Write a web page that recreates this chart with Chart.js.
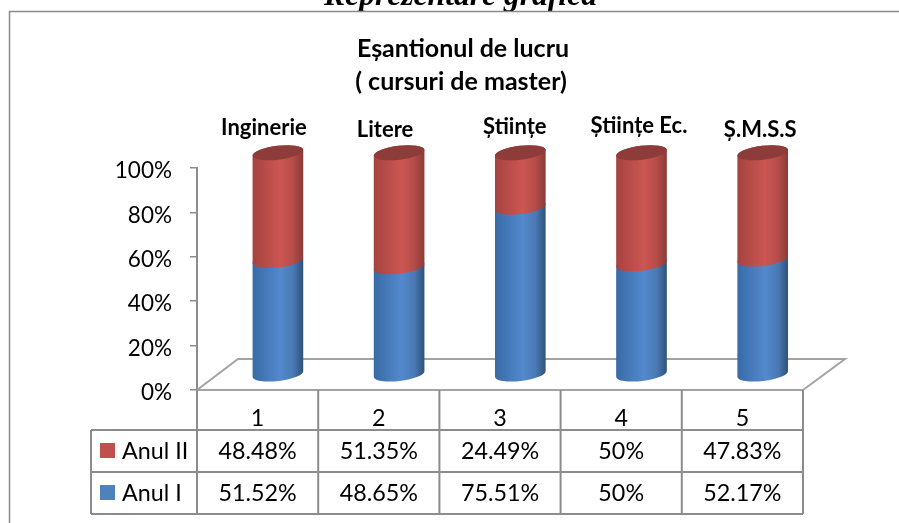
<!DOCTYPE html>
<html>
<head>
<meta charset="utf-8">
<style>html,body{margin:0;padding:0;background:#fff;overflow:hidden}canvas{display:block}</style>
<script src="https://cdn.jsdelivr.net/npm/chart.js@4"></script>
</head>
<body>
<canvas id="c" width="899" height="523"></canvas>
<script>
const categories = ["1", "2", "3", "4", "5"];
const anulI = [51.52, 48.65, 75.51, 50, 52.17];
const anulII = [48.48, 51.35, 24.49, 50, 47.83];
const facultati = ["Inginerie", "Litere", "Științe", "Științe Ec.", "Ș.M.S.S"];
const yTicks = [0, 20, 40, 60, 80, 100];
const heading = "Reprezentare grafică";
const titleLines = ["Eșantionul de lucru", "( cursuri de master)"];
const seriesNames = ["Anul I", "Anul II"];

const GREY = "#8c8c8c";
const LABEL_FONT = '23.3px Lato, "Open Sans", sans-serif';
const DEPTH_X = 20.3, DEPTH_Y = 15.2, RX = 25.5, RY = 7, ROT = -0.118;
const labelShift = [[-14, 128], [-14, 130], [-5.5, 127], [-2.5, 126], [-2.5, 130]];

function cylinder(ctx, el, stops, cap) {
  const cx = el.x + DEPTH_X, top = el.y - DEPTH_Y, bot = el.base - DEPTH_Y;
  const g = ctx.createLinearGradient(cx - RX, 0, cx + RX, 0);
  stops.forEach(s => g.addColorStop(s[0], s[1]));
  ctx.beginPath();
  ctx.ellipse(cx, bot, RX, RY, ROT, 0, Math.PI, false);
  ctx.ellipse(cx, top, RX, RY, ROT, Math.PI, 2 * Math.PI, false);
  ctx.closePath();
  ctx.fillStyle = g;
  ctx.fill();
  if (cap) {
    ctx.beginPath();
    ctx.ellipse(cx, top, RX, RY, ROT, 0, 2 * Math.PI);
    ctx.fillStyle = cap;
    ctx.fill();
  }
}

const scene = {
  id: "scene",
  beforeDatasetsDraw(chart) {
    const { ctx, chartArea: a } = chart;
    ctx.save();
    ctx.strokeStyle = "#a3a3a3";
    ctx.lineWidth = 2;
    ctx.beginPath();
    ctx.moveTo(a.left, a.bottom);
    ctx.lineTo(a.left + 41, a.bottom - 31);
    ctx.lineTo(a.right + 42, a.bottom - 31);
    ctx.lineTo(a.right, a.bottom);
    ctx.stroke();
    ctx.restore();
  },
  afterDatasetsDraw(chart) {
    const { ctx, chartArea: a, scales } = chart;
    ctx.save();
    const blue = chart.getDatasetMeta(0).data, red = chart.getDatasetMeta(1).data;
    blue.forEach(el => cylinder(ctx, el, [[0, "#386aa6"], [0.55, "#5389cd"], [0.8, "#4a79b4"], [1, "#2e5278"]], null));
    red.forEach(el => cylinder(ctx, el, [[0, "#a5433f"], [0.55, "#cc5653"], [0.8, "#b44c49"], [1, "#8b3a38"]], "#8e3c3a"));

    // heading cut by the frame
    ctx.fillStyle = "#000";
    ctx.textAlign = "center";
    ctx.textBaseline = "alphabetic";
    ctx.font = 'italic bold 31.6px "Liberation Serif", serif';
    ctx.fillText(heading, 460.5, 5);
    ctx.clearRect(0, 11, 899, 2);

    // frame
    ctx.strokeStyle = "#8a8a8a";
    ctx.lineWidth = 1.5;
    ctx.beginPath();
    ctx.moveTo(9.5, 523);
    ctx.lineTo(9.5, 11.5);
    ctx.lineTo(899, 11.5);
    ctx.stroke();

    // title
    ctx.fillStyle = "#000";
    ctx.font = 'bold 25px Lato, "Open Sans", sans-serif';
    ctx.textBaseline = "middle";
    ctx.fillText(titleLines[0], 463, 49);
    ctx.fillText(titleLines[1], 461, 82);

    // category captions
    ctx.font = 'bold 22px Lato, "Open Sans", sans-serif';
    red.forEach((el, i) => ctx.fillText(facultati[i], el.x + DEPTH_X + labelShift[i][0], labelShift[i][1]));

    // data table
    const step = (a.right - a.left) / categories.length;
    const r0 = a.bottom, r1 = 430, r2 = 472, r3 = 514, tl = 91;
    ctx.strokeStyle = GREY;
    ctx.lineWidth = 2;
    ctx.beginPath();
    [r1, r2, r3].forEach(y => { ctx.moveTo(tl, y); ctx.lineTo(a.right, y); });
    ctx.moveTo(tl, r1); ctx.lineTo(tl, r3);
    for (let i = 0; i <= categories.length; i++) {
      ctx.moveTo(a.left + i * step, r0);
      ctx.lineTo(a.left + i * step, r3);
    }
    ctx.stroke();

    ctx.font = LABEL_FONT;
    ctx.fillStyle = "#000";
    ctx.textBaseline = "middle";
    categories.forEach((c, i) => {
      const x = scales.x.getPixelForValue(i);
      ctx.fillText(anulII[i] + "%", x, 451);
      ctx.fillText(anulI[i] + "%", x, 493);
    });
    ctx.textAlign = "left";
    ctx.fillText(seriesNames[1], 122, 451);
    ctx.fillText(seriesNames[0], 122, 493);
    ctx.fillStyle = chart.data.datasets[1].legendColor;
    ctx.fillRect(100, 443, 15, 15);
    ctx.fillStyle = chart.data.datasets[0].legendColor;
    ctx.fillRect(100, 485, 15, 15);
    ctx.restore();
  }
};

new Chart(document.getElementById("c"), {
  type: "bar",
  data: {
    labels: categories,
    datasets: [
      { label: seriesNames[0], data: anulI, backgroundColor: "transparent", legendColor: "#4F81BD" },
      { label: seriesNames[1], data: anulII, backgroundColor: "transparent", legendColor: "#C0504D" }
    ]
  },
  options: {
    responsive: false,
    animation: false,
    devicePixelRatio: 1,
    layout: { padding: { left: 0, top: 168, right: 96, bottom: 93 } },
    datasets: { bar: { categoryPercentage: 1, barPercentage: 0.42 } },
    plugins: { legend: { display: false }, title: { display: false }, tooltip: { enabled: false } },
    scales: {
      x: {
        stacked: true,
        afterFit(s) { s.height = 40; },
        grid: { display: false },
        border: { color: "#a3a3a3", width: 2 },
        ticks: { color: "#000", font: { family: 'Lato, "Open Sans", sans-serif', size: 23.3 }, padding: 6, maxRotation: 0 }
      },
      y: {
        stacked: true,
        min: 0,
        max: 100,
        afterFit(s) { s.width = 197; },
        afterBuildTicks(s) { s.ticks = yTicks.map(v => ({ value: v })); },
        grid: { drawOnChartArea: false, color: GREY, tickLength: 7, lineWidth: 1.5 },
        border: { color: GREY, width: 2 },
        ticks: { color: "#000", font: { family: 'Lato, "Open Sans", sans-serif', size: 22.5 }, padding: 18, labelOffset: 3, callback: v => v + "%" }
      }
    }
  },
  plugins: [scene]
});
</script>
</body>
</html>
